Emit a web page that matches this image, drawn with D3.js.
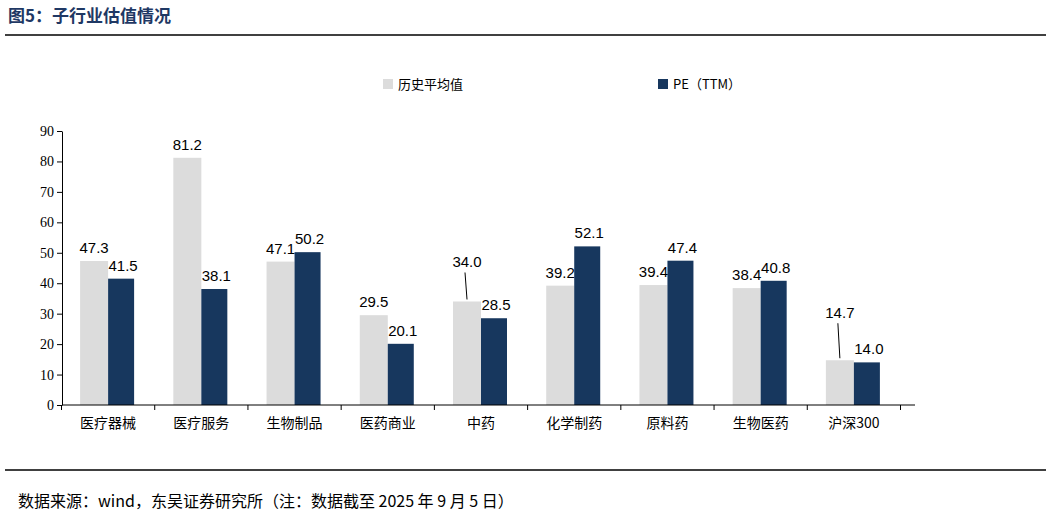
<!DOCTYPE html><html><head><meta charset="utf-8"><script src="https://cdn.jsdelivr.net/npm/d3@7"></script>
<style>body{margin:0;background:#fff}</style></head><body><svg id="c" width="1053" height="519"></svg>
<script>
const categories=["医疗器械","医疗服务","生物制品","医药商业","中药","化学制药","原料药","生物医药","沪深300"];
const histAvg=[47.3,81.2,47.1,29.5,34.0,39.2,39.4,38.4,14.7];
const peTTM=[41.5,38.1,50.2,20.1,28.5,52.1,47.4,40.8,14.0];
const yTicks=[0,10,20,30,40,50,60,70,80,90];
const svg=d3.select("#c");
const cjk="'Noto Sans CJK SC',sans-serif";
svg.append("text").attr("x",8).attr("y",22).attr("fill","#1f3864").attr("font-weight","bold").attr("font-size",17).attr("font-family",cjk).text("图5：子行业估值情况");
svg.append("line").attr("x1",5).attr("x2",1046).attr("y1",35).attr("y2",35).attr("stroke","#000").attr("stroke-width",1.5);
svg.append("line").attr("x1",5).attr("x2",1046).attr("y1",470).attr("y2",470).attr("stroke","#000").attr("stroke-width",1.5);
svg.append("text").attr("x",18).attr("y",507).attr("font-size",16).attr("font-family",cjk).text("数据来源：wind，东吴证券研究所（注：数据截至 2025 年 9 月 5 日）");
const x=d3.scaleBand().domain(categories).range([61.5,900.5]);
const y=d3.scaleLinear().domain([0,90]).range([405,131]);
const g=svg.append("g");
g.selectAll(".a").data(categories).join("rect").attr("x",d=>x(d)+x.bandwidth()/2-28).attr("width",28)
 .attr("y",(d,i)=>y(histAvg[i])).attr("height",(d,i)=>y(0)-y(histAvg[i])).attr("fill","#dcdcdc");
g.selectAll(".b").data(categories).join("rect").attr("x",d=>x(d)+x.bandwidth()/2).attr("width",26)
 .attr("y",(d,i)=>y(peTTM[i])).attr("height",(d,i)=>y(0)-y(peTTM[i])).attr("fill","#17375e");
const ya=svg.append("g").attr("transform","translate(62,0)").call(d3.axisLeft(y).tickValues(yTicks).tickSize(5).tickSizeOuter(0));
const xa=svg.append("g").attr("transform","translate(0,405)").call(d3.axisBottom(x).tickSize(5).tickSizeOuter(0));
[ya,xa].forEach(a=>{a.selectAll("path,line").attr("stroke","#000");a.selectAll("text").attr("fill","#000").attr("font-size",14);});
xa.select(".domain").attr("d","M62,0H915");
ya.selectAll("text").attr("font-family","'Liberation Serif',serif");
xa.selectAll("text").attr("font-family",cjk).attr("dy","1.1em");
xa.selectAll(".tick line").attr("transform",`translate(${-x.bandwidth()/2},0)`);
xa.append("line").attr("x1",900.5).attr("x2",900.5).attr("y1",0).attr("y2",5).attr("stroke","#000");
const lab=(xx,yy,t)=>svg.append("text").attr("x",xx).attr("y",yy).attr("text-anchor","middle").attr("font-size",15).attr("font-family","'Liberation Sans',Arial,sans-serif").text(t);
const off={4:[0,-26],8:[0,-34]};
categories.forEach((c,i)=>{
  const cx=x(c)+x.bandwidth()/2;
  const o=off[i]||[0,0];
  const ly=y(histAvg[i])-8+o[1];
  lab(cx-14+o[0],ly,histAvg[i].toFixed(1));
  if(off[i]) svg.append("line").attr("x1",cx-16).attr("x2",cx-14).attr("y1",ly+5).attr("y2",y(histAvg[i])-2).attr("stroke","#000");
  lab(cx+15,y(peTTM[i])-8,peTTM[i].toFixed(1));
});
svg.append("rect").attr("x",383).attr("y",79).attr("width",10).attr("height",10).attr("fill","#dcdcdc");
svg.append("text").attr("x",398).attr("y",89).attr("font-size",13).attr("font-family",cjk).text("历史平均值");
svg.append("rect").attr("x",658).attr("y",79).attr("width",10).attr("height",10).attr("fill","#17375e");
svg.append("text").attr("x",673).attr("y",89).attr("font-size",13).attr("font-family",cjk).text("PE（TTM）");
</script></body></html>
